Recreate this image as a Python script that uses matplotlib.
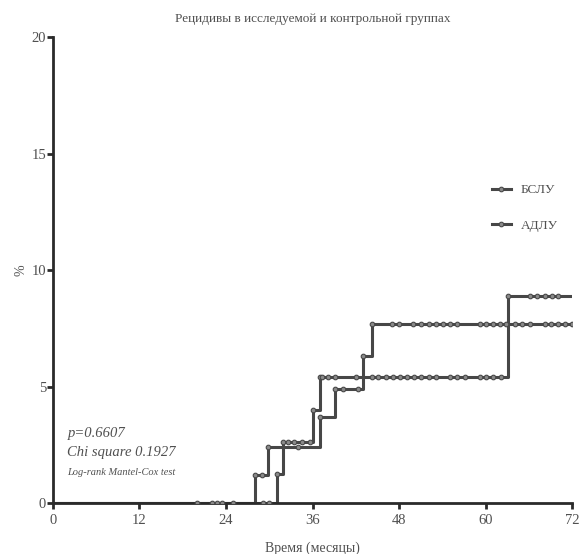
import numpy as np
import matplotlib.pyplot as plt

plt.rcParams['font.family'] = ['Liberation Serif', 'DejaVu Serif']

# БСЛУ: event times (months) and cumulative recurrence (%)
bslu_t = [28.0, 29.8, 37.0, 39.1, 43.0, 44.2]
bslu_v = [1.2, 2.4, 3.7, 4.9, 6.3, 7.7]
bslu_cens = [20.0, 22.1, 22.8, 23.5, 25.0, 29.0, 34.0, 40.2, 42.3,
             47.0, 48.0, 50.0, 51.0, 52.1, 53.1, 54.1, 55.1, 56.0, 59.2, 60.1,
             61.1, 62.0, 62.9, 64.1, 65.1, 66.2, 68.2, 69.1, 70.1, 71.0, 72.0]

# АДЛУ
adlu_t = [31.1, 31.9, 36.1, 37.0, 63.1]
adlu_v = [1.25, 2.6, 4.0, 5.4, 8.9]
adlu_cens = [29.1, 30.0, 32.6, 33.5, 34.5, 35.6, 37.3, 38.2, 39.1, 42.1,
             44.2, 45.1, 46.2, 47.1, 48.1, 49.1, 50.1, 51.1, 52.1, 53.1, 55.1,
             56.1, 57.1, 59.2, 60.1, 61.1, 62.2, 66.2, 67.2, 68.2, 69.2, 70.1]

labels = ['БСЛУ', 'АДЛУ']
x_end = 72
xticks = [0, 12, 24, 36, 48, 60, 72]
yticks = [0, 5, 10, 15, 20]

line_col = '#474747'
text_col = '#505050'


def km_curve(ax, times, vals, cens, label):
    t = np.array([0] + times + [x_end])
    v = np.array([0] + vals + [vals[-1]])
    ax.step(t, v, where='post', color=line_col, lw=2.2, zorder=2)
    # markers at steps and censored points
    c = np.array(cens)
    cv = v[np.searchsorted(t, c, side='right') - 1]
    mx = np.concatenate([times, c])
    my = np.concatenate([vals, cv])
    ax.plot(mx, my, 'o', ms=3.3, mfc='#8a8a8a', mec=line_col, mew=0.8, zorder=3)
    ax.plot([], [], '-o', color=line_col, lw=2.2, ms=3.3, mfc='#8a8a8a',
            mec=line_col, mew=0.8, label=label)


fig = plt.figure(figsize=(5.79, 5.54), dpi=100)
ax = fig.add_axes([0.0915, 0.092, 0.8965, 0.841])

km_curve(ax, bslu_t, bslu_v, bslu_cens, labels[0])
km_curve(ax, adlu_t, adlu_v, adlu_cens, labels[1])

ax.set_xlim(0, 72)
ax.set_ylim(0, 20)
ax.set_xticks(xticks)
ax.set_yticks(yticks)
for s in ['top', 'right']:
    ax.spines[s].set_visible(False)
for s in ['left', 'bottom']:
    ax.spines[s].set_linewidth(2)
    ax.spines[s].set_color('#2a2a2a')
ax.tick_params(width=2, length=4, color='#2a2a2a', labelsize=10.5, labelcolor=text_col)
ax.tick_params(axis='y', pad=1)
ax.tick_params(axis='x', pad=4)
ax.spines['left'].set_zorder(4)

ax.set_title('Рецидивы в исследуемой и контрольной группах', fontsize=9.5,
             color=text_col, pad=11)
ax.set_xlabel('Время (месяцы)', fontsize=10, color=text_col, labelpad=10)
ax.set_ylabel('%', fontsize=10, color=text_col, labelpad=3)

ax.text(2.0, 2.85, 'p=0.6607', style='italic', fontsize=10.5, color=text_col)
ax.text(2.0, 2.0, 'Chi square 0.1927', style='italic', fontsize=10.5, color=text_col)
ax.text(2.0, 1.2, 'Log-rank Mantel-Cox test', style='italic', fontsize=7.5, color=text_col)

leg = ax.legend(loc='upper right', bbox_to_anchor=(0.995, 0.71), frameon=False,
                fontsize=9.5, handlelength=1.5, labelspacing=1.75, handletextpad=0.7)
for t in leg.get_texts():
    t.set_color(text_col)

fig.savefig('out.png', dpi=100)
